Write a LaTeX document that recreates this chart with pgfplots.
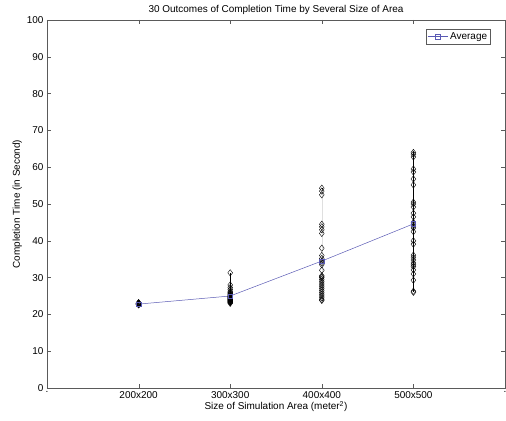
\documentclass[border=0pt]{standalone}
\usepackage{pgfplots}
\pgfplotsset{compat=1.18}
\usepackage{fontspec}
\setmainfont{Liberation Sans}
\definecolor{avgblue}{RGB}{90,90,180}
\definecolor{axgray}{RGB}{90,90,90}
\begin{document}
\begin{tikzpicture}
\begin{axis}[
  at={(0,0)}, anchor=south west,
  scale only axis, width=458bp, height=368bp,
  xmin=0, xmax=5, ymin=0, ymax=100,
  xtick={0,1,2,3,4,5},
  xticklabels={.,200x200,300x300,400x400,500x500,.},
  ytick={0,10,...,100},
  tick align=inside,
  major tick length=4bp,
  axis line style={axgray},
  tick style={axgray},
  every tick label/.append style={font=\fontsize{10}{12}\selectfont},
  /pgf/number format/assume math mode=true,
  title={30 Outcomes of Completion Time by Several Size of Area},
  title style={font=\fontsize{10}{12}\selectfont, yshift=-4bp},
  xlabel={Size of Simulation Area (meter\textsuperscript{2})},
  ylabel={Completion Time (in Second)},
  label style={font=\fontsize{10}{12}\selectfont},
  xlabel style={yshift=4bp},
  ylabel style={yshift=-2bp},
  legend style={at={(0.969,0.976)}, anchor=north east, draw=axgray,
    font=\fontsize{10}{12}\selectfont, inner sep=1.5bp, row sep=0pt},
  legend image post style={scale=1.2},
  legend cell align=left,
]
% 200x200
\addplot[black, line width=0.4pt, mark=diamond, mark size=3.2bp, mark options={solid, line width=0.4pt}, forget plot] coordinates {
(1,22.6)(1,22.6)(1,22.7)(1,22.7)(1,22.7)(1,22.7)(1,22.8)(1,22.8)(1,22.8)(1,22.8)
(1,22.8)(1,22.8)(1,22.8)(1,22.8)(1,22.9)(1,22.9)(1,22.9)(1,22.9)(1,22.9)(1,22.9)
(1,22.9)(1,23.0)(1,23.0)(1,23.0)(1,23.0)(1,23.0)(1,23.0)(1,23.1)(1,23.1)(1,23.2)};
% 300x300
\addplot[black, line width=0.4pt, mark=diamond, mark size=3.2bp, mark options={solid, line width=0.4pt}, forget plot] coordinates {
(2,31.3)(2,28.0)(2,27.3)(2,26.8)(2,26.3)(2,26.0)(2,25.8)(2,25.6)(2,25.4)(2,25.2)
(2,25.0)(2,24.9)(2,24.8)(2,24.7)(2,24.6)(2,24.5)(2,24.4)(2,24.3)(2,24.2)(2,24.1)
(2,24.0)(2,23.9)(2,23.8)(2,23.7)(2,23.6)(2,23.5)(2,23.4)(2,23.3)(2,23.2)(2,23.0)};
% 400x400
\addplot[black, line width=0.4pt, mark=diamond, mark size=3.2bp, mark options={solid, line width=0.4pt}, forget plot] coordinates {
(3,54.3)(3,53.5)(3,52.5)(3,44.5)(3,43.8)(3,43.0)(3,42.0)(3,38.0)(3,36.0)(3,35.2)
(3,34.5)(3,34.0)(3,33.5)(3,32.0)(3,30.5)(3,30.2)(3,30.0)(3,29.5)(3,29.0)(3,28.5)
(3,28.0)(3,27.5)(3,27.0)(3,26.5)(3,26.0)(3,25.5)(3,25.0)(3,24.5)(3,24.0)(3,23.8)};
% 500x500
\addplot[black, line width=0.4pt, mark=diamond, mark size=3.2bp, mark options={solid, line width=0.4pt}, forget plot] coordinates {
(4,64.0)(4,63.5)(4,62.8)(4,59.5)(4,58.7)(4,56.8)(4,55.2)(4,50.5)(4,50.0)(4,49.2)
(4,47.5)(4,46.5)(4,45.0)(4,44.5)(4,44.0)(4,43.5)(4,42.5)(4,40.0)(4,39.1)(4,36.1)
(4,35.5)(4,34.8)(4,34.0)(4,33.5)(4,33.0)(4,32.1)(4,31.0)(4,29.3)(4,26.3)(4,26.0)};
% Average
\addplot[avgblue, line width=0.5pt, mark=square, mark size=2.2bp, mark options={solid}] coordinates {
(1,22.8)(2,25.0)(3,34.5)(4,44.6)};
\addlegendentry{Average}
\end{axis}
\pgfresetboundingbox
\path[use as bounding box] (-47bp,-33bp) rectangle (459bp,388bp);
\end{tikzpicture}
\end{document}
